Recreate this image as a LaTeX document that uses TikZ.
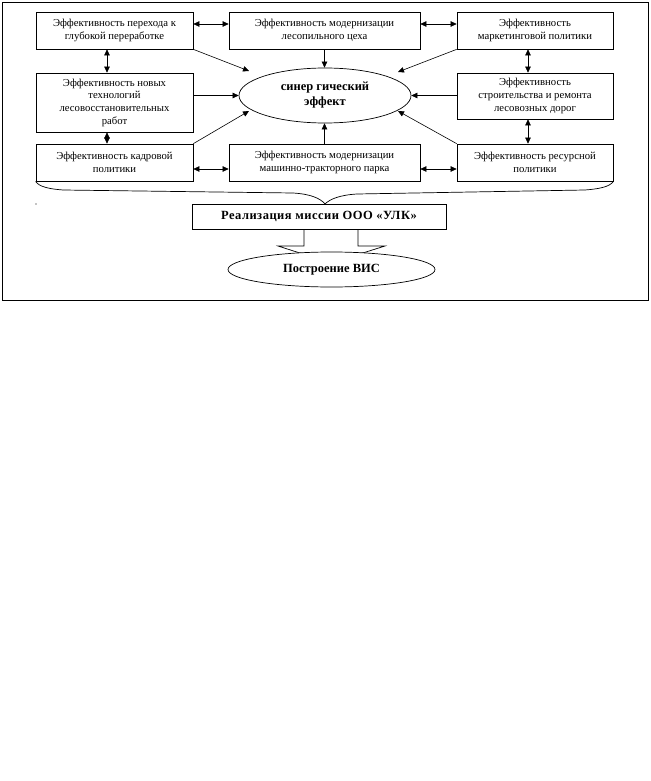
\documentclass[tikz,border=0pt]{standalone}
\usepackage{fontspec}
\setmainfont{Liberation Serif}
\usetikzlibrary{arrows.meta,shapes.geometric,calc}
\begin{document}
\begin{tikzpicture}[x=1pt,y=-1pt,
  bx/.style={draw, line width=0.7pt, align=center, inner sep=2pt,
    font=\fontsize{10.7}{12.7}\selectfont},
  bigtxt/.style={font=\fontsize{12.5}{15}\selectfont\bfseries, align=center},
  arr/.style={line width=0.6pt, -{Triangle[length=6pt,width=5.5pt]}},
  darr/.style={line width=0.6pt, {Triangle[length=6pt,width=5.5pt]}-{Triangle[length=6pt,width=5.5pt]}},
  ln/.style={line width=0.7pt}
]
\fill[white] (0,0) rectangle (650,781);
\useasboundingbox (0,0) rectangle (650,781);
\draw[ln] (2,2) rectangle (648,300);

\node[bx, minimum width=157pt, minimum height=37pt] (B1) at (114.5,30.5) {Эффективность перехода к\\глубокой переработке};
\node[bx, minimum width=191pt, minimum height=37pt] (B2) at (324.5,30.5) {Эффективность модернизации\\лесопильного цеха};
\node[bx, minimum width=156pt, minimum height=37pt] (B3) at (535,30.5) {Эффективность\\маркетинговой политики};
\node[bx, minimum width=157pt, minimum height=59pt] (B4) at (114.5,102.5) {Эффективность новых\\технологий\\лесовосстановительных\\работ};
\node[bx, minimum width=156pt, minimum height=46pt] (B5) at (535,96) {Эффективность\\строительства и ремонта\\лесовозных дорог};
\node[bx, minimum width=157pt, minimum height=37pt] (B6) at (114.5,162.5) {Эффективность кадровой\\политики};
\node[bx, minimum width=191pt, minimum height=37pt] (B7) at (324.5,162.5) {Эффективность модернизации\\машинно-тракторного парка};
\node[bx, minimum width=156pt, minimum height=37pt] (B8) at (535,162.5) {Эффективность ресурсной\\политики};

\node[ellipse, draw, ln, inner sep=0pt, minimum width=172pt, minimum height=55pt, bigtxt] (Syn) at (325,95.5) {синер гический\\эффект};

\node[draw, ln, minimum width=254pt, minimum height=25pt, inner sep=0pt, bigtxt] (Mis) at (319,216.5) {\addfontfeature{LetterSpace=4}Реализация миссии ООО «УЛК»};

% block arrow from mission to BIS
\draw[ln] (Mis.south -| 304,0) -- (304,246) -- (278,246) -- (331,263) -- (385,246) -- (358,246) -- (Mis.south -| 358,0);

\node[ellipse, draw, ln, fill=white, inner sep=0pt, minimum width=207pt, minimum height=35pt, bigtxt] (BIS) at (331.5,269.5) {Построение ВИС};

% double arrows
\draw[darr] ([yshift=6.5pt]B1.east) -- ([yshift=6.5pt]B2.west);
\draw[darr] ([yshift=6.5pt]B2.east) -- ([yshift=6.5pt]B3.west);
\draw[darr] ([yshift=-6.5pt]B6.east) -- ([yshift=-6.5pt]B7.west);
\draw[darr] ([yshift=-6.5pt]B7.east) -- ([yshift=-6.5pt]B8.west);
\draw[darr] ([xshift=-7.5pt]B1.south) -- ([xshift=-7.5pt]B4.north);
\draw[darr] ([xshift=-7.5pt]B4.south) -- ([xshift=-7.5pt]B6.north);
\draw[darr] ([xshift=-7pt]B3.south) -- ([xshift=-7pt]B5.north);
\draw[darr] ([xshift=-7pt]B5.south) -- ([xshift=-7pt]B8.north);

% arrows to synergy
\coordinate (t1) at (249,71);
\coordinate (t2) at (249,111);
\coordinate (t3) at (398,72);
\coordinate (t4) at (398,111);
\draw[arr] (B2.south) -- (B2.south |- Syn.north);
\draw[arr] (B7.north) -- (B7.north |- Syn.south);
\draw[arr] (B4.east |- Syn.west) -- (Syn.west);
\draw[arr] (B5.west |- Syn.east) -- (Syn.east);
\draw[arr] (B1.south east) -- (t1);
\draw[arr] (B6.north east) -- (t2);
\draw[arr] (B3.south west) -- (t3);
\draw[arr] (B8.north west) -- (t4);

% brace
\coordinate (tip) at (325,204);
\draw[ln] (B6.south west) .. controls (39,187) and (50,189) .. (63,190) -- (293,193) .. controls (310,194) and (320,198) .. (tip);
\draw[ln] (B8.south east) .. controls (610,187) and (598,189) .. (585,190) -- (357,194) .. controls (340,195) and (330,199) .. (tip);

% small dot
\fill (36,204) circle (0.6pt);
\end{tikzpicture}
\end{document}
